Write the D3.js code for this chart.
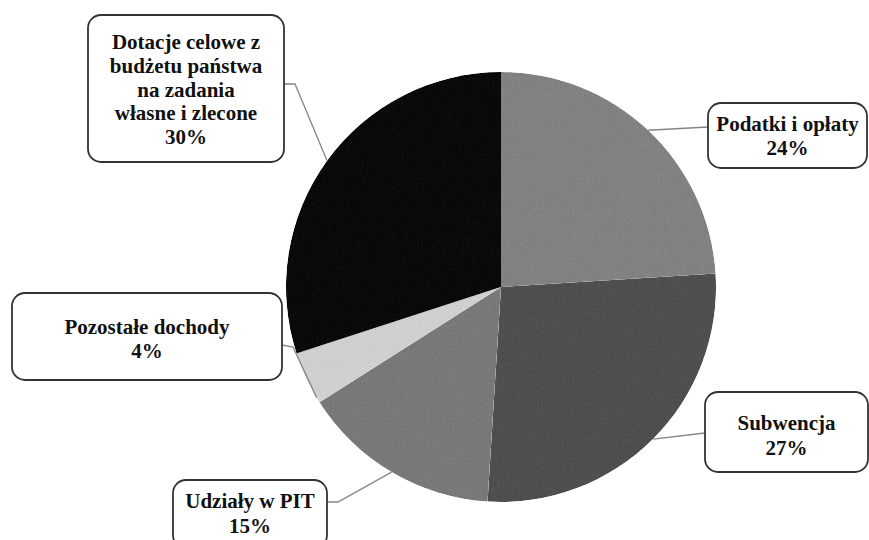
<!DOCTYPE html>
<html>
<head>
<meta charset="utf-8">
<script src="https://cdn.jsdelivr.net/npm/d3@7"></script>
<style>
  body { margin: 0; background: #fff; }
  svg { display: block; }
  .lbl { font-family: "Liberation Serif", "Times New Roman", serif; font-weight: bold; font-size: 21px; fill: #111; }
</style>
</head>
<body>
<script>
// data
const categories = ["Podatki i opłaty", "Subwencja", "Udziały w PIT", "Pozostałe dochody", "Dotacje celowe z budżetu państwa na zadania własne i zlecone"];
const values = [24, 27, 15, 4, 30];
const percentLabels = ["24%", "27%", "15%", "4%", "30%"];
const colors = ["#8c8c8c", "#595959", "#838383", "#dadada", "#141414"];

// label text split into lines as in the picture
const labelLines = [
  ["Podatki i opłaty"],
  ["Subwencja"],
  ["Udziały w PIT"],
  ["Pozostałe dochody"],
  ["Dotacje celowe z", "budżetu państwa", "na zadania", "własne i zlecone"]
];

// box layout: x0, y0, x1, y1, first baseline, line step, leader attach point, elbow, where on the slice (0..1)
const boxes = [
  { x0: 708, y0: 103, x1: 867, y1: 168, base: 131, step: 24, attach: [708, 127], elbow: null, t: 0.5 },
  { x0: 705, y0: 392, x1: 868, y1: 472, base: 430, step: 25, attach: [705, 433], elbow: null, t: 0.5 },
  { x0: 173, y0: 480, x1: 327, y1: 548, base: 508, step: 25, attach: [327, 502], elbow: [338, 502], t: 0.5 },
  { x0: 12, y0: 293, x1: 282, y1: 380, base: 334, step: 24, attach: [282, 345], elbow: [293, 347], t: 0.1 },
  { x0: 88, y0: 15, x1: 284, y1: 162, base: 49, step: 23.8, attach: [284, 84], elbow: [295, 84], t: 0.5 }
];

const width = 869, height = 540;
const cx = 501, cy = 287, r = 215;

const svg = d3.select("body").append("svg")
  .attr("width", width)
  .attr("height", height);

// a bit of scan grain on the slices
const defs = svg.append("defs");
const f = defs.append("filter").attr("id", "grain")
  .attr("color-interpolation-filters", "sRGB")
  .attr("x", 0).attr("y", 0).attr("width", 1).attr("height", 1);
f.append("feTurbulence").attr("type", "fractalNoise").attr("baseFrequency", 1.2)
  .attr("numOctaves", 1).attr("seed", 3).attr("result", "noise");
f.append("feColorMatrix").attr("in", "noise").attr("type", "saturate").attr("values", 0).attr("result", "gray");
f.append("feComposite").attr("in", "SourceGraphic").attr("in2", "gray")
  .attr("operator", "arithmetic").attr("k1", 0).attr("k2", 1).attr("k3", 0.2).attr("k4", -0.1)
  .attr("result", "mix");
f.append("feComposite").attr("in", "mix").attr("in2", "SourceGraphic").attr("operator", "in");

const pie = d3.pie().sort(null).value(d => d);
const arcs = pie(values);
const arc = d3.arc().innerRadius(0).outerRadius(r);

const g = svg.append("g").attr("transform", "translate(" + cx + "," + cy + ")");

g.append("g").attr("filter", "url(#grain)")
  .selectAll("path")
  .data(arcs)
  .enter()
  .append("path")
  .attr("d", arc)
  .attr("fill", (d, i) => colors[i]);

// leader lines
const leaders = svg.append("g");
arcs.forEach(function (d, i) {
  const b = boxes[i];
  const a = d.startAngle + (d.endAngle - d.startAngle) * b.t;
  const px = cx + r * Math.sin(a);
  const py = cy - r * Math.cos(a);
  const pts = [[px, py]];
  if (b.elbow) pts.push(b.elbow);
  pts.push(b.attach);
  leaders.append("path")
    .attr("d", d3.line()(pts))
    .attr("fill", "none")
    .attr("stroke", "#858585")
    .attr("stroke-width", 1.3);
});

// label boxes
const labels = svg.append("g");
categories.forEach(function (c, i) {
  const b = boxes[i];
  labels.append("rect")
    .attr("x", b.x0)
    .attr("y", b.y0)
    .attr("width", b.x1 - b.x0)
    .attr("height", b.y1 - b.y0)
    .attr("rx", 13)
    .attr("fill", "#fff")
    .attr("stroke", "#333")
    .attr("stroke-width", 1.8);
  const lines = labelLines[i].concat([percentLabels[i]]);
  const tx = (b.x0 + b.x1) / 2;
  lines.forEach(function (l, j) {
    labels.append("text")
      .attr("class", "lbl")
      .attr("x", tx)
      .attr("y", b.base + j * b.step)
      .attr("text-anchor", "middle")
      .text(l);
  });
});
</script>
</body>
</html>
